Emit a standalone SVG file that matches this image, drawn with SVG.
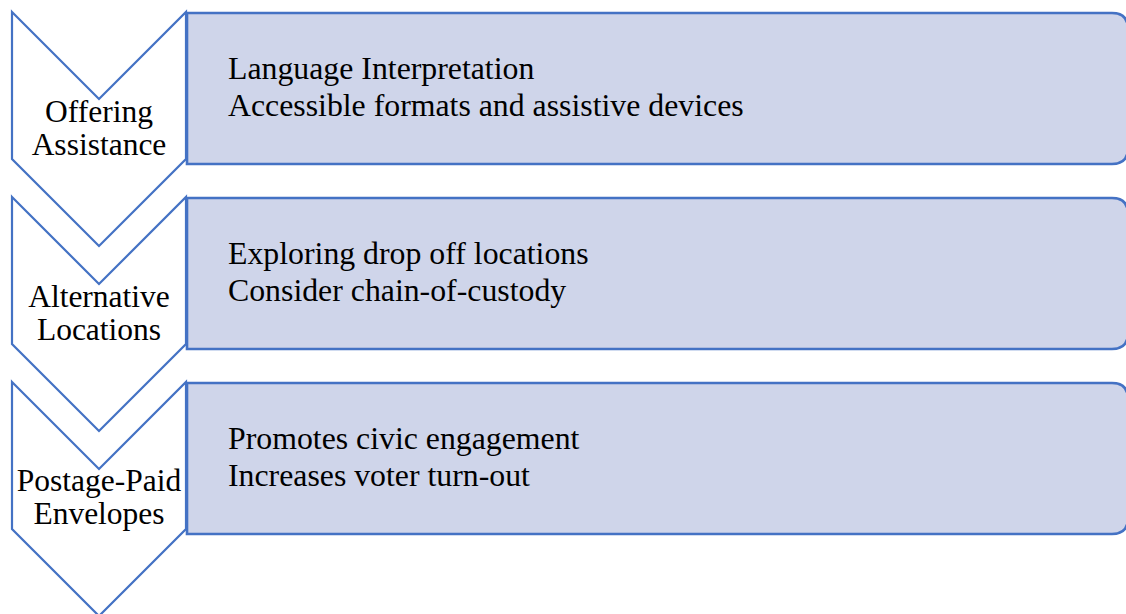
<svg xmlns="http://www.w3.org/2000/svg" width="1126" height="614" viewBox="0 0 1126 614">
  <style>
    .chev { fill: #ffffff; stroke: #4472C4; stroke-width: 2.2; stroke-linejoin: miter; }
    .box { fill: #CFD5EA; stroke: #4472C4; stroke-width: 2.6; }
    .lbl { font-size: 31.5px; fill: #000; text-anchor: middle; }
    .item { font-size: 31.8px; fill: #000; }
  </style>
  <rect width="1126" height="614" fill="#ffffff"/>

  <g font-family="'Liberation Serif', 'Times New Roman', Times, serif">
  <g id="step1">
    <path class="box" d="M187,13 H1112 Q1128,13 1128,29 V148 Q1128,164 1112,164 H187 Z"/>
    <polygon class="chev" points="12,12 99,99 186,12 186,159 99,246 12,159"/>
    <text class="lbl" x="99" y="122">Offering</text>
    <text class="lbl" x="99" y="155">Assistance</text>
    <text class="item" x="228" y="79">Language Interpretation</text>
    <text class="item" x="228" y="116">Accessible formats and assistive devices</text>
  </g>

  <g id="step2">
    <path class="box" d="M187,198 H1112 Q1128,198 1128,214 V333 Q1128,349 1112,349 H187 Z"/>
    <polygon class="chev" points="12,197 99,284 186,197 186,344 99,431 12,344"/>
    <text class="lbl" x="99" y="307">Alternative</text>
    <text class="lbl" x="99" y="340">Locations</text>
    <text class="item" x="228" y="264">Exploring drop off locations</text>
    <text class="item" x="228" y="301">Consider chain-of-custody</text>
  </g>

  <g id="step3">
    <path class="box" d="M187,383 H1112 Q1128,383 1128,399 V518 Q1128,534 1112,534 H187 Z"/>
    <polygon class="chev" points="12,382 99,469 186,382 186,529 99,616 12,529"/>
    <text class="lbl" x="99" y="491">Postage-Paid</text>
    <text class="lbl" x="99" y="524">Envelopes</text>
    <text class="item" x="228" y="449">Promotes civic engagement</text>
    <text class="item" x="228" y="486">Increases voter turn-out</text>
  </g>
  </g>

  <g id="connectors"></g>
</svg>
